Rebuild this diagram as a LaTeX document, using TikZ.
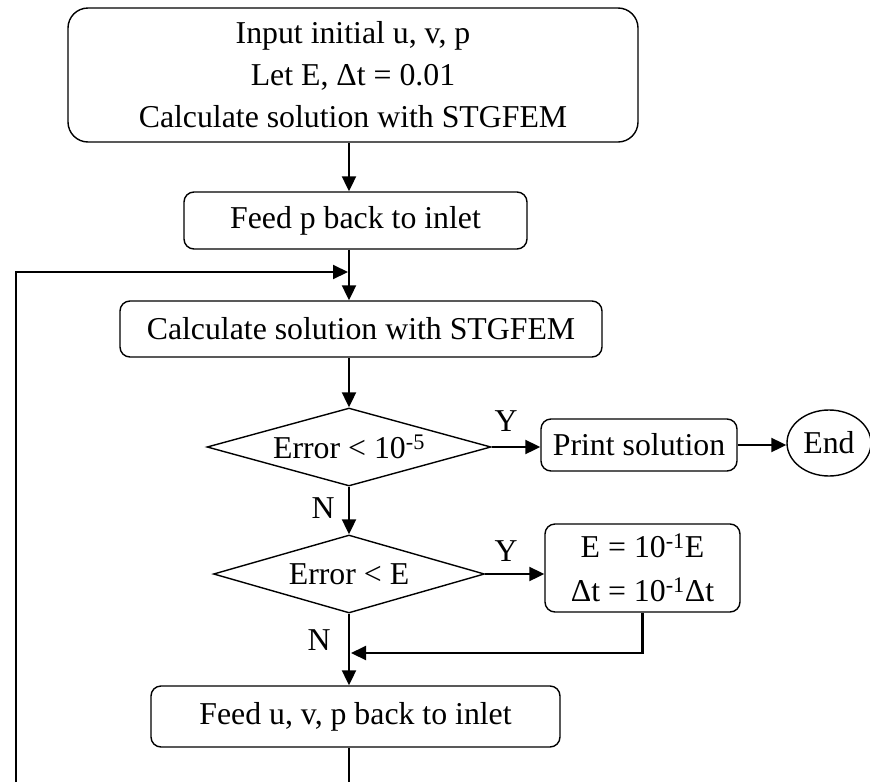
\documentclass[tikz,border=0pt]{standalone}
\usepackage{fontspec}
\setmainfont{Liberation Serif}
\usetikzlibrary{shapes.geometric,arrows.meta}
\begin{document}
\begin{tikzpicture}[x=1pt,y=-1pt,
  font=\fontsize{31.8}{42}\selectfont,
  box/.style={draw, line width=1.4pt, rounded corners=10pt, inner sep=0pt, align=center},
  decision/.style={draw, diamond, line width=1.4pt, inner sep=0pt, aspect=3.6},
  terminal/.style={draw, ellipse, line width=1.4pt, inner sep=0pt},
  arr/.style={line width=2.1pt, -{Triangle[length=15pt,width=14pt]}},
  link/.style={line width=2.1pt},
  lbl/.style={inner sep=0pt}]
\useasboundingbox (0,0) rectangle (870,782);

% process blocks
\node[box, rounded corners=20pt, minimum width=570pt, minimum height=134pt] (init) at (353,75)
  {Input initial u, v, p\\Let E, Δt = 0.01\\Calculate solution with STGFEM};
\node[box, minimum width=343pt, minimum height=57pt] (feedp) at (355.5,220.5) {Feed p back to inlet};
\node[box, minimum width=482pt, minimum height=56pt] (calc) at (361,329) {Calculate solution with STGFEM};
\node[decision, minimum width=284pt, minimum height=78pt] (d1) at (349,447) {Error < 10\textsuperscript{-5}};
\node[box, minimum width=196pt, minimum height=52pt] (print) at (639,445) {Print solution};
\node[terminal, minimum width=84pt, minimum height=66pt] (endn) at (829,443) {End};
\node[decision, minimum width=271pt, minimum height=78pt] (d2) at (349,574) {Error < E};
\node[box, minimum width=195pt, minimum height=88pt] (ebox) at (642.5,568)
  {E = 10\textsuperscript{-1}E\\[2pt]Δt = 10\textsuperscript{-1}Δt};
\node[box, minimum width=409pt, minimum height=61pt] (feeduvp) at (355.5,716.5) {Feed u, v, p back to inlet};

% branch labels
\node[lbl] (y1) at (506,421) {Y};
\node[lbl] (n1) at (323,508) {N};
\node[lbl] (y2) at (506,551) {Y};
\node[lbl] (n2) at (319,640) {N};

% helper points
\coordinate (spine) at (349,0);
\coordinate (loopB) at (16,782);
\coordinate (loopT) at (16,272);
\coordinate (loopEnd) at (348,272);
\coordinate (merge) at (351,653);

% connectors
\draw[arr] (init.south -| spine) -- (feedp.north -| spine);
\draw[arr] (feedp.south -| spine) -- (calc.north -| spine);
\draw[arr] (loopB) -- (loopT) -- (loopEnd);
\draw[arr] (calc.south -| spine) -- (d1.north);
\draw[arr] (d1.east) -- (d1.east -| print.west);
\draw[arr] (print.east) -- (print.east -| endn.west);
\draw[arr] (d1.south) -- (d2.north);
\draw[arr] (d2.east) -- (d2.east -| ebox.west);
\draw[arr] (ebox.south) |- (merge);
\draw[arr] (d2.south) -- (feeduvp.north -| d2.south);
\draw[link] (feeduvp.south -| spine) -- (spine |- loopB);
\end{tikzpicture}
\end{document}
